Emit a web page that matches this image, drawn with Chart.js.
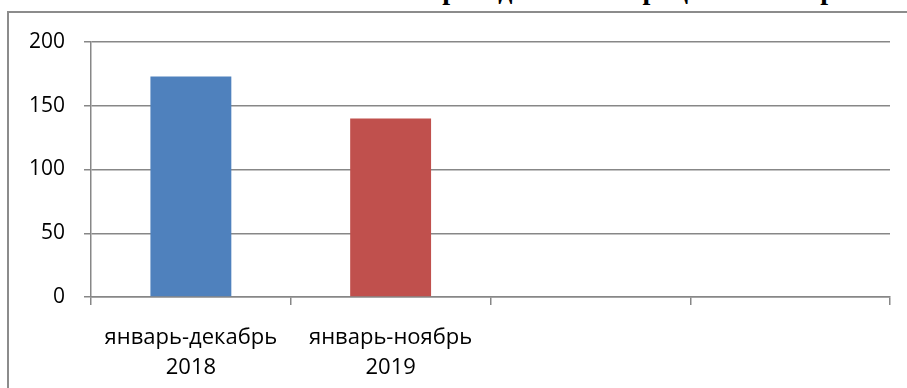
<!DOCTYPE html>
<html>
<head>
<meta charset="utf-8">
<script src="https://cdn.jsdelivr.net/npm/chart.js@4.4.0/dist/chart.umd.min.js"></script>
<style>
  html, body { margin: 0; padding: 0; background: #fff; }
  body { width: 907px; height: 388px; overflow: hidden; position: relative; }
  .title {
    position: absolute; left: 271px; top: -24px; white-space: nowrap;
    font: bold 28px/28px "Liberation Serif", "Times New Roman", serif; color: #000;
  }
  .frame {
    position: absolute; left: 7px; top: 11px; width: 1000px; height: 500px;
    border: 2px solid #8c8c8c; box-sizing: border-box;
  }
  .wrap { position: absolute; left: 0; top: 0; width: 907px; height: 388px; }
</style>
</head>
<body>
<div class="title">Количество проведенных операций за январь-ноябрь</div>
<div class="frame"></div>
<div class="wrap"><canvas id="chart"></canvas></div>
<script>
// ── Data ──────────────────────────────────────────────────────────────────
const categories = [['январь-декабрь', '2018'], ['январь-ноябрь', '2019'], '', ''];
const values     = [173, 140, null, null];
const barColors  = ['#4f81bd', '#c0504d', '#4f81bd', '#4f81bd'];
const yTicks     = [0, 50, 100, 150, 200];

const gridColor = '#878787';

new Chart(document.getElementById('chart').getContext('2d'), {
    type: 'bar',
    data: {
        labels: categories,
        datasets: [{
            data: values,
            backgroundColor: barColors,
            borderWidth: 0,
            categoryPercentage: 1,
            barPercentage: 0.405
        }]
    },
    options: {
        responsive: true,
        maintainAspectRatio: false,
        animation: false,
        layout: { padding: { top: 42, right: 17, left: 0, bottom: 0 } },
        plugins: { legend: { display: false }, tooltip: { enabled: false } },
        scales: {
            y: {
                min: yTicks[0],
                max: yTicks[yTicks.length - 1],
                afterBuildTicks: s => { s.ticks = yTicks.map(v => ({ value: v })); },
                afterFit: s => { s.width = 91; },
                ticks: { color: '#000', font: { family: '"Open Sans", sans-serif', size: 21 }, padding: 19 },
                grid: { color: gridColor, lineWidth: 1.5, tickLength: 7 },
                border: { color: gridColor, width: 1.5 }
            },
            x: {
                afterFit: s => { s.height = 91; },
                ticks: {
                    color: '#000',
                    font: { family: '"Open Sans", sans-serif', size: 22, lineHeight: 1.36 },
                    padding: 18, maxRotation: 0, autoSkip: false
                },
                grid: { drawOnChartArea: false, color: gridColor, lineWidth: 1.5, tickLength: 8, offset: true },
                border: { color: gridColor, width: 1.5 }
            }
        }
    }
});
</script>
</body>
</html>
